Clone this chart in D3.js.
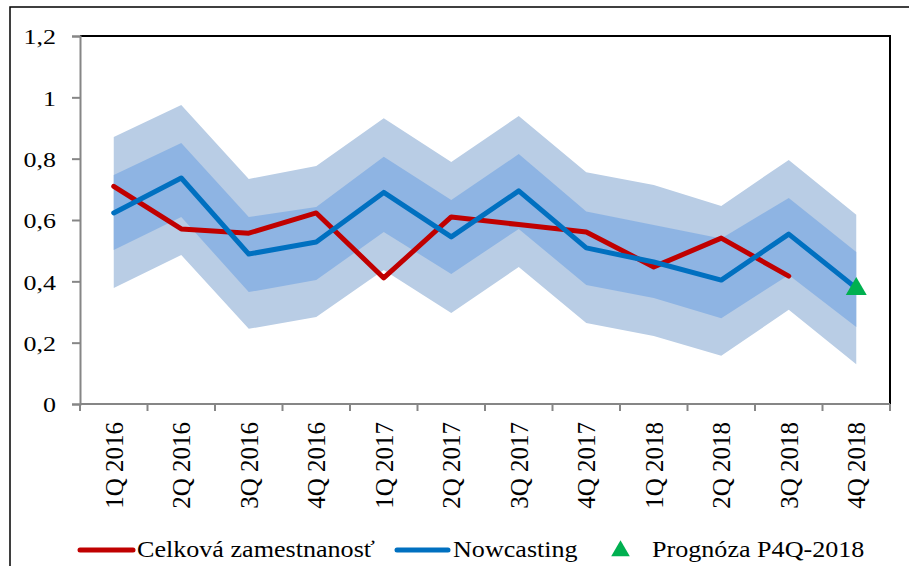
<!DOCTYPE html>
<html>
<head>
<meta charset="utf-8">
<script src="https://cdn.jsdelivr.net/npm/d3@7"></script>
<style>
  body { margin: 0; background: #fff; }
  svg { display: block; font-family: "Liberation Serif", "Times New Roman", serif; }
</style>
</head>
<body>
<div id="chart"></div>
<script>
const categories = ["1Q 2016", "2Q 2016", "3Q 2016", "4Q 2016", "1Q 2017", "2Q 2017",
  "3Q 2017", "4Q 2017", "1Q 2018", "2Q 2018", "3Q 2018", "4Q 2018"];
const celkova = [0.71, 0.571, 0.557, 0.623, 0.411, 0.61, 0.585, 0.561, 0.447, 0.541, 0.417, null];
const nowcasting = [0.623, 0.737, 0.489, 0.528, 0.69, 0.545, 0.695, 0.509, 0.463, 0.404, 0.554, 0.378];
const outerHigh = [0.871, 0.975, 0.734, 0.776, 0.932, 0.789, 0.939, 0.756, 0.714, 0.646, 0.796, 0.617];
const innerHigh = [0.747, 0.851, 0.61, 0.642, 0.806, 0.665, 0.815, 0.628, 0.584, 0.54, 0.672, 0.496];
const innerLow = [0.502, 0.61, 0.365, 0.404, 0.561, 0.424, 0.571, 0.388, 0.346, 0.28, 0.421, 0.251];
const outerLow = [0.378, 0.486, 0.245, 0.284, 0.437, 0.297, 0.447, 0.264, 0.222, 0.157, 0.307, 0.13];
const prognoza = [{ q: "4Q 2018", v: 0.375 }];
const yTicks = [0, 0.2, 0.4, 0.6, 0.8, 1, 1.2];

const W = 909, H = 566;
const plotLeft = 80, plotRight = 890, plotTop = 36, plotBottom = 404;

const svg = d3.select("#chart").append("svg").attr("width", W).attr("height", H);

// outer frame
svg.append("rect").attr("x", 10).attr("y", 7).attr("width", 1000).attr("height", 1000)
  .attr("fill", "none").attr("stroke", "#000").attr("stroke-width", 1.5);

const x = d3.scaleBand().domain(categories).range([plotLeft, plotRight]).padding(0);
const cx = (c) => x(c) + x.bandwidth() / 2;
const y = d3.scaleLinear().domain([0, 1.2]).range([plotBottom, plotTop]);

// bands
const band = (lo, hi) => d3.area()
  .x((d, i) => cx(categories[i]))
  .y0((d, i) => y(lo[i]))
  .y1((d, i) => y(hi[i]));

svg.append("path").datum(categories).attr("d", band(outerLow, outerHigh)).attr("fill", "#b9cde5");
svg.append("path").datum(categories).attr("d", band(innerLow, innerHigh)).attr("fill", "#8eb4e3");

// plot frame (top + right black)
svg.append("path")
  .attr("d", `M${plotLeft},${plotTop}H${plotRight}V${plotBottom}`)
  .attr("fill", "none").attr("stroke", "#000").attr("stroke-width", 2);

// y axis
const yAxis = svg.append("g").attr("transform", `translate(${plotLeft},0)`)
  .call(d3.axisLeft(y).tickValues(yTicks).tickSize(8).tickPadding(15)
    .tickFormat((d) => String(+d.toFixed(1)).replace(".", ",")));
yAxis.select(".domain").attr("stroke", "#868686").attr("stroke-width", 2);
yAxis.selectAll(".tick line").attr("stroke", "#868686").attr("stroke-width", 2);
yAxis.selectAll(".tick text").attr("font-size", 22).attr("fill", "#000")
  .attr("font-family", "Liberation Serif")
  .attr("transform", "scale(1.18,1)")
  .attr("x", -24 / 1.18)
  .attr("dy", "0.35em");

// x axis
const xAxis = svg.append("g").attr("transform", `translate(0,${plotBottom})`)
  .call(d3.axisBottom(x).tickSize(0).tickPadding(0));
xAxis.select(".domain").remove();
xAxis.selectAll(".tick text")
  .attr("font-size", 25).attr("font-family", "Liberation Serif").attr("fill", "#000")
  .attr("text-anchor", "end")
  .attr("transform", "rotate(-90)")
  .attr("x", -18).attr("y", 0).attr("dy", "0.36em");

svg.append("line").attr("x1", plotLeft).attr("x2", plotRight).attr("y1", plotBottom).attr("y2", plotBottom)
  .attr("stroke", "#868686").attr("stroke-width", 2);
svg.append("g").selectAll("line")
  .data(categories.map((c) => x(c)).concat([plotRight]))
  .join("line")
  .attr("x1", (d) => d).attr("x2", (d) => d)
  .attr("y1", plotBottom).attr("y2", plotBottom + 7)
  .attr("stroke", "#868686").attr("stroke-width", 2);

// lines
const line = d3.line()
  .defined((d) => d != null)
  .x((d, i) => cx(categories[i]))
  .y((d) => y(d));

svg.append("path").datum(celkova).attr("d", line)
  .attr("fill", "none").attr("stroke", "#c00000").attr("stroke-width", 5)
  .attr("stroke-linejoin", "round").attr("stroke-linecap", "round");
svg.append("path").datum(nowcasting).attr("d", line)
  .attr("fill", "none").attr("stroke", "#0070c0").attr("stroke-width", 5)
  .attr("stroke-linejoin", "round").attr("stroke-linecap", "round");

// forecast triangle
svg.selectAll(".prog").data(prognoza).join("path").attr("class", "prog")
  .attr("d", d3.symbol(d3.symbolTriangle, 190))
  .attr("transform", (d) => `translate(${cx(d.q)},${y(d.v)})`)
  .attr("fill", "#00b050");

// legend
const legend = svg.append("g").attr("font-size", 22.5).attr("fill", "#000");
const legY = 550;
legend.append("line").attr("x1", 80).attr("x2", 133).attr("y1", legY).attr("y2", legY)
  .attr("stroke", "#c00000").attr("stroke-width", 5).attr("stroke-linecap", "round");
legend.append("text").attr("transform", `translate(137,557) scale(1.16,1)`).text("Celková zamestnanosť");
legend.append("line").attr("x1", 397).attr("x2", 448).attr("y1", legY).attr("y2", legY)
  .attr("stroke", "#0070c0").attr("stroke-width", 5).attr("stroke-linecap", "round");
legend.append("text").attr("transform", `translate(453,557) scale(1.16,1)`).text("Nowcasting");
legend.append("path").attr("d", d3.symbol(d3.symbolTriangle, 150))
  .attr("transform", `translate(620.5,551)`).attr("fill", "#00b050");
legend.append("text").attr("transform", `translate(652,557) scale(1.16,1)`).text("Prognóza P4Q-2018");
</script>
</body>
</html>
